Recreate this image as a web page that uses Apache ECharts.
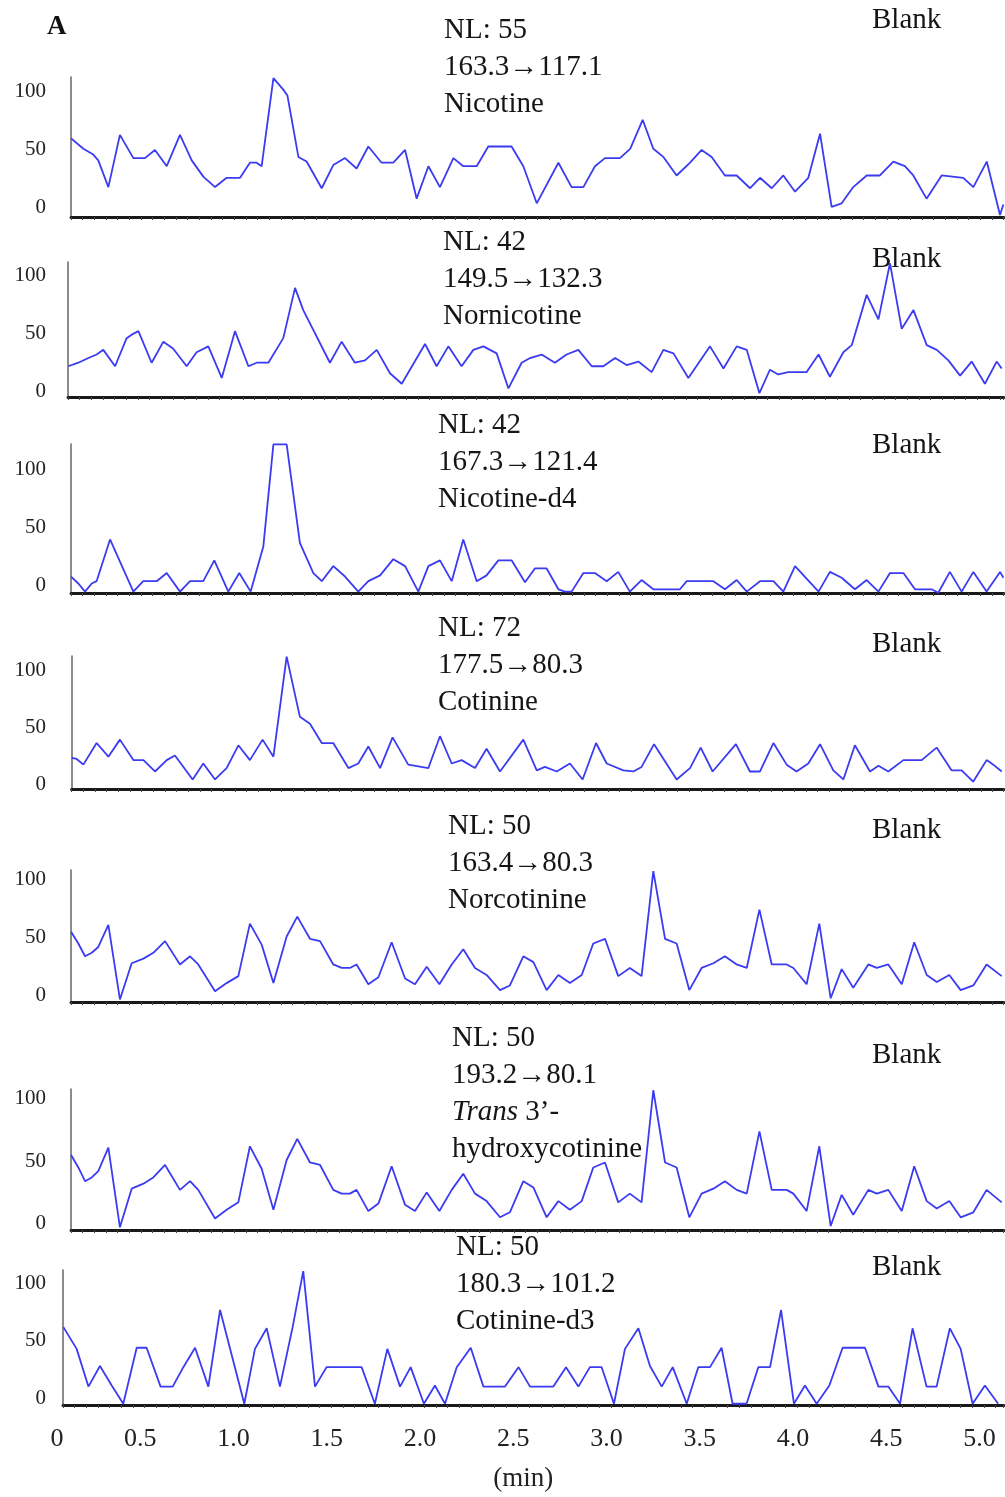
<!DOCTYPE html>
<html>
<head>
<meta charset="utf-8">
<script src="https://cdn.jsdelivr.net/npm/echarts@6/dist/echarts.min.js"></script>
<style>
  html, body { margin: 0; background: #fff; }
  #chart { width: 1005px; height: 1497px; }
</style>
</head>
<body>
<div id="chart"></div>
<script>
// retention time (min), relative intensity (%)
const nicotine = [[0.129,60],[0.195,51],[0.248,46],[0.275,41],[0.329,18],[0.391,63],[0.463,43],[0.525,43],[0.579,50],[0.642,36],[0.713,63],[0.776,41],[0.838,27],[0.901,18],[0.963,26],[1.035,26],[1.088,39],[1.124,39],[1.151,36],[1.214,112],[1.267,102],[1.289,97],[1.348,44],[1.392,40],[1.473,17],[1.535,37],[1.598,43],[1.660,34],[1.723,53],[1.794,39],[1.857,39],[1.920,50],[1.982,8],[2.045,36],[2.107,18],[2.179,43],[2.232,36],[2.304,36],[2.366,53],[2.491,53],[2.554,36],[2.626,4],[2.742,39],[2.813,18],[2.876,18],[2.938,36],[2.992,43],[3.072,43],[3.127,51],[3.194,76],[3.251,51],[3.305,44],[3.376,28],[3.448,39],[3.510,50],[3.564,44],[3.635,28],[3.698,28],[3.770,17],[3.823,26],[3.886,17],[3.948,28],[4.011,14],[4.082,26],[4.145,64],[4.207,1],[4.261,4],[4.323,18],[4.395,28],[4.466,28],[4.538,40],[4.600,36],[4.645,28],[4.716,8],[4.797,28],[4.913,26],[4.967,18],[5.039,40],[5.110,-6],[5.128,3]];
const nornicotine = [[0.114,22],[0.168,25],[0.222,29],[0.266,32],[0.302,36],[0.365,22],[0.427,46],[0.454,49],[0.490,52],[0.561,25],[0.624,43],[0.677,37],[0.749,22],[0.802,34],[0.865,39],[0.937,12],[1.008,52],[1.080,22],[1.124,25],[1.187,25],[1.267,46],[1.330,89],[1.374,70],[1.517,25],[1.580,43],[1.651,25],[1.705,27],[1.768,36],[1.839,16],[1.902,7],[2.027,41],[2.089,22],[2.152,39],[2.223,22],[2.286,36],[2.340,39],[2.411,33],[2.474,3],[2.545,25],[2.590,29],[2.652,32],[2.723,25],[2.786,32],[2.849,36],[2.921,22],[2.983,22],[3.046,29],[3.108,23],[3.171,26],[3.242,17],[3.305,36],[3.359,33],[3.439,12],[3.555,39],[3.627,20],[3.698,39],[3.752,36],[3.820,-1],[3.876,19],[3.921,15],[3.975,17],[4.073,17],[4.137,32],[4.198,13],[4.270,34],[4.315,40],[4.395,83],[4.458,62],[4.520,110],[4.583,54],[4.646,70],[4.717,40],[4.771,36],[4.833,27],[4.896,14],[4.958,26],[5.029,7],[5.092,26],[5.119,20]];
const nicotineD4 = [[0.129,8],[0.168,2],[0.204,-5],[0.240,2],[0.266,4],[0.338,40],[0.463,-5],[0.516,4],[0.588,4],[0.642,11],[0.713,-5],[0.767,4],[0.838,4],[0.897,22],[0.972,-5],[1.031,11],[1.092,-5],[1.160,34],[1.214,122],[1.285,122],[1.356,37],[1.428,11],[1.473,4],[1.535,17],[1.598,8],[1.669,-5],[1.723,4],[1.786,9],[1.857,23],[1.920,17],[1.991,-5],[2.045,17],[2.107,22],[2.170,4],[2.232,40],[2.304,4],[2.357,9],[2.420,22],[2.491,22],[2.563,3],[2.616,15],[2.679,15],[2.742,-3],[2.777,-5],[2.813,-5],[2.876,11],[2.938,11],[3.001,4],[3.063,12],[3.125,-5],[3.188,5],[3.251,-3],[3.394,-3],[3.430,4],[3.573,4],[3.635,-3],[3.698,5],[3.752,-5],[3.823,4],[3.895,4],[3.948,-5],[4.011,17],[4.137,-5],[4.198,12],[4.261,7],[4.332,-3],[4.395,5],[4.458,-5],[4.520,11],[4.592,11],[4.654,-3],[4.743,-3],[4.779,-6],[4.841,12],[4.904,-5],[4.967,12],[5.038,-5],[5.110,12],[5.128,7]];
const cotinine = [[0.132,23],[0.159,22],[0.195,17],[0.266,36],[0.329,24],[0.391,39],[0.463,21],[0.517,21],[0.579,11],[0.642,21],[0.686,25],[0.781,4],[0.838,18],[0.901,4],[0.963,14],[1.026,34],[1.088,21],[1.156,39],[1.214,24],[1.285,112],[1.356,59],[1.410,53],[1.473,36],[1.535,36],[1.616,14],[1.669,18],[1.723,33],[1.786,14],[1.853,41],[1.937,17],[2.045,14],[2.107,42],[2.170,18],[2.223,21],[2.295,14],[2.357,31],[2.429,11],[2.554,39],[2.626,12],[2.670,15],[2.733,11],[2.804,18],[2.872,4],[2.944,36],[3.001,18],[3.090,12],[3.144,11],[3.188,15],[3.255,35],[3.376,4],[3.448,14],[3.505,32],[3.569,11],[3.694,35],[3.769,11],[3.823,11],[3.895,36],[3.966,17],[4.019,11],[4.082,18],[4.145,35],[4.216,12],[4.270,4],[4.332,34],[4.413,11],[4.458,16],[4.511,11],[4.592,21],[4.690,21],[4.770,32],[4.850,12],[4.904,12],[4.966,2],[5.038,21],[5.074,17],[5.119,11]];
const norcotinine = [[0.129,55],[0.168,45],[0.204,34],[0.240,37],[0.275,42],[0.329,61],[0.391,-3],[0.454,28],[0.517,32],[0.570,37],[0.633,47],[0.713,27],[0.767,34],[0.811,27],[0.901,4],[0.963,11],[1.026,17],[1.088,62],[1.151,44],[1.214,11],[1.285,51],[1.342,68],[1.410,49],[1.464,47],[1.535,27],[1.580,24],[1.624,24],[1.660,27],[1.723,10],[1.777,16],[1.848,46],[1.920,15],[1.973,10],[2.036,25],[2.104,10],[2.170,27],[2.232,40],[2.295,24],[2.357,18],[2.429,5],[2.482,9],[2.554,34],[2.608,29],[2.679,5],[2.742,18],[2.804,11],[2.867,18],[2.929,45],[2.992,49],[3.063,17],[3.125,24],[3.188,17],[3.251,107],[3.314,49],[3.376,45],[3.444,5],[3.510,24],[3.573,28],[3.635,34],[3.698,27],[3.752,24],[3.820,74],[3.886,27],[3.966,27],[4.002,24],[4.073,10],[4.141,62],[4.202,-2],[4.261,23],[4.323,7],[4.404,27],[4.449,24],[4.511,27],[4.583,10],[4.650,46],[4.717,18],[4.771,12],[4.838,18],[4.899,5],[4.967,9],[5.038,27],[5.119,17]];
// the trans-3'-hydroxycotinine blank trace is identical to the norcotinine one in the figure
const hydroxycotinine = norcotinine;
const cotinineD3 = [[0.088,62],[0.159,43],[0.222,10],[0.284,28],[0.347,11],[0.409,-5],[0.481,44],[0.534,44],[0.609,10],[0.674,10],[0.731,27],[0.794,44],[0.865,10],[0.928,77],[1.058,-5],[1.115,43],[1.178,61],[1.249,10],[1.317,62],[1.374,111],[1.437,10],[1.499,27],[1.687,27],[1.758,-5],[1.825,43],[1.893,10],[1.950,27],[2.021,-5],[2.080,11],[2.134,-5],[2.197,27],[2.272,44],[2.340,10],[2.456,10],[2.528,27],[2.590,10],[2.715,10],[2.783,27],[2.849,10],[2.911,27],[2.974,27],[3.040,-5],[3.099,43],[3.171,61],[3.233,28],[3.296,10],[3.355,27],[3.430,-5],[3.492,27],[3.555,27],[3.617,44],[3.676,-5],[3.751,-5],[3.814,27],[3.877,27],[3.936,77],[4.005,-5],[4.064,11],[4.127,-5],[4.195,11],[4.266,44],[4.386,44],[4.458,10],[4.511,10],[4.574,-5],[4.641,61],[4.716,10],[4.770,10],[4.841,61],[4.899,43],[4.963,-5],[5.029,11],[5.100,-5]];

const timeTicks = [0, 0.5, 1.0, 1.5, 2.0, 2.5, 3.0, 3.5, 4.0, 4.5, 5.0];
const yTicks = [0, 50, 100];

const nlValues = ['NL: 55', 'NL: 42', 'NL: 42', 'NL: 72', 'NL: 50', 'NL: 50', 'NL: 50'];
const transitions = ['163.3→117.1', '149.5→132.3', '167.3→121.4', '177.5→80.3', '163.4→80.3', '193.2→80.1', '180.3→101.2'];
const compounds = ['Nicotine', 'Nornicotine', 'Nicotine-d4', 'Cotinine', 'Norcotinine', '{it|Trans} 3’-\nhydroxycotinine', 'Cotinine-d3'];

// layout: one panel per trace
const X0 = 47, PX_PER_MIN = 186.5, TMAX = 5.13;
const SERIF = "'Liberation Serif', 'Times New Roman', serif";
const panels = [
  { data: nicotine,        tmin: 0.129, top: 77,   bottom: 217,  ymin: -7.8, ymax: 112.9, tx: 444, ty: 30,   by: 20 },
  { data: nornicotine,     tmin: 0.113, top: 262,  bottom: 397,  ymin: -4.3, ymax: 111.1, tx: 443, ty: 242,  by: 259 },
  { data: nicotineD4,      tmin: 0.129, top: 444,  bottom: 593,  ymin: -6.2, ymax: 122.4, tx: 438, ty: 425,  by: 445 },
  { data: cotinine,        tmin: 0.132, top: 656,  bottom: 789,  ymin: -4.4, ymax: 112.5, tx: 438, ty: 628,  by: 644 },
  { data: norcotinine,     tmin: 0.129, top: 870,  bottom: 1002, ymin: -5.2, ymax: 108,   tx: 448, ty: 826,  by: 830 },
  { data: hydroxycotinine, tmin: 0.129, top: 1089, bottom: 1230, ymin: -5.2, ymax: 108,   tx: 452, ty: 1038, by: 1055 },
  { data: cotinineD3,      tmin: 0.086, top: 1270, bottom: 1405, ymin: -6.1, ymax: 112,   tx: 456, ty: 1247, by: 1267 }
];

const chart = echarts.init(document.getElementById('chart'));

const grids = [], xAxes = [], yAxes = [], series = [], graphics = [];
panels.forEach((p, i) => {
  const left = X0 + PX_PER_MIN * p.tmin;
  grids.push({ left: left, top: p.top, width: PX_PER_MIN * (TMAX - p.tmin), height: p.bottom - p.top });
  xAxes.push({
    gridIndex: i, type: 'value', min: p.tmin, max: TMAX, interval: 0.0625,
    axisLine: { onZero: false, lineStyle: { color: '#1a1a1a', width: 3 } },
    axisTick: { show: true, length: 3, lineStyle: { color: '#444', width: 1 } },
    axisLabel: { show: false }, splitLine: { show: false }
  });
  yAxes.push({
    gridIndex: i, type: 'value', min: p.ymin, max: p.ymax,
    axisLine: { show: true, onZero: false, lineStyle: { color: '#666', width: 1.5 } },
    axisTick: { show: false }, splitLine: { show: false },
    axisLabel: {
      customValues: yTicks, margin: left - 46,
      fontFamily: SERIF, fontSize: 21, color: '#222'
    }
  });
  series.push({
    type: 'line', xAxisIndex: i, yAxisIndex: i, data: p.data,
    symbol: 'none', lineStyle: { color: '#3b3bf2', width: 1.8 }
  });
  const lines = [nlValues[i], transitions[i]].concat(compounds[i].split('\n'));
  lines.forEach((txt, k) => {
    graphics.push({
      type: 'text', x: p.tx, y: p.ty + k * 37,
      style: {
        text: txt, fontFamily: SERIF, fontSize: 29, fill: '#151515', verticalAlign: 'middle',
        rich: { it: { fontFamily: SERIF, fontSize: 29, fontStyle: 'italic', fill: '#151515' } }
      }
    });
  });
  graphics.push({
    type: 'text', x: 872, y: p.by,
    style: { text: 'Blank', fontFamily: SERIF, fontSize: 29, fill: '#151515', verticalAlign: 'middle' }
  });
});

// shared time axis labels under the last panel
grids.push({ left: X0, top: 1410, width: PX_PER_MIN * 5, height: 10 });
xAxes.push({
  gridIndex: 7, type: 'value', min: 0, max: 5, interval: 0.5,
  axisLine: { show: false }, axisTick: { show: false }, splitLine: { show: false },
  axisLabel: {
    margin: 6, fontFamily: SERIF, fontSize: 26, color: '#222',
    formatter: v => timeTicks.indexOf(v) === 0 ? '{z|0}' : v.toFixed(1),
    rich: { z: { fontFamily: SERIF, fontSize: 26, color: '#222', padding: [0, 0, 0, 20] } }
  },
  name: '(min)', nameLocation: 'middle', nameGap: 45,
  nameTextStyle: { fontFamily: SERIF, fontSize: 27, color: '#222', padding: [0, 0, 0, 20] }
});
yAxes.push({ gridIndex: 7, show: false });

graphics.push({
  type: 'text', x: 47, y: 27,
  style: { text: 'A', fontFamily: SERIF, fontSize: 27, fontWeight: 'bold', fill: '#111', verticalAlign: 'middle' }
});

chart.setOption({
  animation: false,
  backgroundColor: '#fff',
  grid: grids,
  xAxis: xAxes,
  yAxis: yAxes,
  series: series,
  graphic: graphics
});
</script>
</body>
</html>
